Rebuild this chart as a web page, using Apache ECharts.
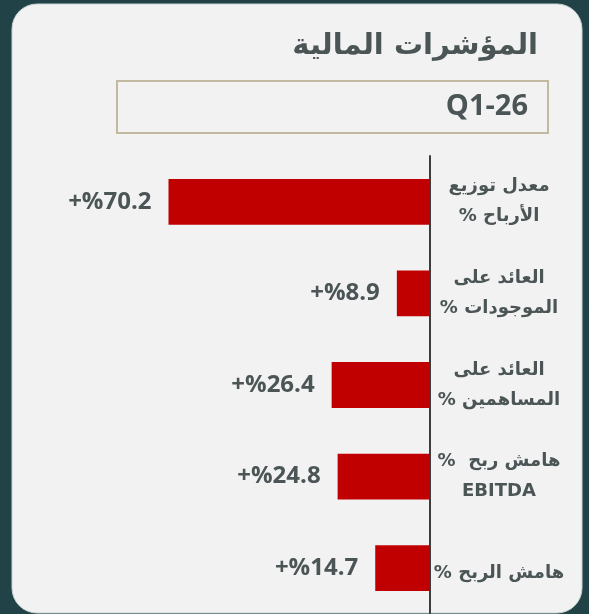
<!DOCTYPE html>
<html>
<head>
<meta charset="utf-8">
<script src="https://cdn.jsdelivr.net/npm/echarts@6/dist/echarts.min.js"></script>
<style>
  html, body { margin: 0; padding: 0; background: #214347; }
  #kpi_chart { width: 589px; height: 614px; }
</style>
</head>
<body>
<div id="kpi_chart"></div>
<script>
// categories, top to bottom (written so they read correctly on an LTR canvas)
var categories = [
  "معدل توزيع\n% الأرباح",
  "العائد على\n% الموجودات",
  "العائد على\n% المساهمين",
  "%  هامش ربح\nEBITDA",
  "% هامش الربح"
];
var values = [70.2, 8.9, 26.4, 24.8, 14.7];
var valueLabels = ["+%70.2", "+%8.9", "+%26.4", "+%24.8", "+%14.7"];
var titleText = "المؤشرات المالية";
var periodText = "Q1-26";

var textColor = "#4b5556";
var arabicFont = "'DejaVu Sans', sans-serif";
var latinFont = "'Open Sans', sans-serif";

var chart = echarts.init(document.getElementById("kpi_chart"));
var options = {
  backgroundColor: "#214347",
  animation: false,
  graphic: [
    {
      type: "rect",
      z: 0,
      shape: { x: 12, y: 4, width: 570, height: 609, r: 25 },
      style: { fill: "#f2f2f2", stroke: "#c9d3d3", lineWidth: 1 }
    },
    {
      type: "text",
      z: 1,
      x: 538,
      y: 46,
      style: {
        text: titleText,
        fill: textColor,
        font: "bold 29px " + arabicFont,
        align: "right",
        verticalAlign: "middle"
      }
    },
    {
      type: "rect",
      z: 1,
      shape: { x: 117, y: 81, width: 431, height: 52 },
      style: { fill: null, stroke: "#c3b9a1", lineWidth: 2 }
    },
    {
      type: "text",
      z: 1,
      x: 528,
      y: 107,
      style: {
        text: periodText,
        fill: textColor,
        font: "bold 29px " + latinFont,
        align: "right",
        verticalAlign: "middle"
      }
    }
  ],
  grid: {
    top: 156,
    height: 467,
    left: 132,
    right: 159
  },
  xAxis: {
    type: "value",
    min: 0,
    max: 80,
    inverse: true,
    show: false
  },
  yAxis: {
    type: "category",
    data: categories,
    inverse: true,
    position: "right",
    axisLine: { show: true, onZero: false, lineStyle: { color: "#3d3d3d", width: 2 } },
    axisTick: { show: false },
    axisLabel: {
      margin: 69,
      align: "center",
      color: textColor,
      fontFamily: arabicFont,
      fontWeight: "bold",
      fontSize: 18,
      lineHeight: 30,
      formatter: function (value, index) {
        // the last label sits a little lower than its bar
        return index === categories.length - 1 ? "{low|" + value + "}" : value;
      },
      rich: {
        low: {
          color: textColor,
          fontFamily: arabicFont,
          fontWeight: "bold",
          fontSize: 18,
          lineHeight: 30,
          padding: [10, 0, 0, 0]
        }
      }
    }
  },
  series: [
    {
      type: "bar",
      data: values,
      barWidth: "50%",
      itemStyle: { color: "#c00000" },
      label: {
        show: true,
        position: "left",
        distance: 17,
        formatter: function (p) {
          return valueLabels[p.dataIndex];
        },
        color: textColor,
        fontFamily: latinFont,
        fontWeight: "bold",
        fontSize: 24
      }
    }
  ]
};
chart.setOption(options);
</script>
</body>
</html>
